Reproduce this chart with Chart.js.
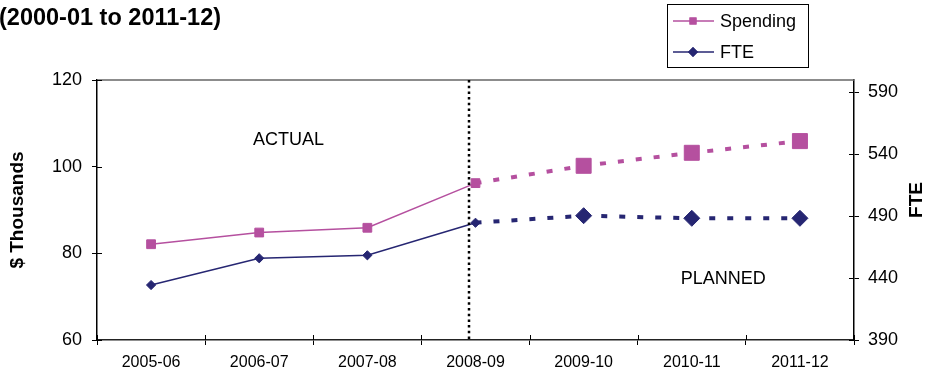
<!DOCTYPE html>
<html lang="en">
<head>
<meta charset="utf-8">
<title>Spending and FTE</title>
<script src="https://cdn.jsdelivr.net/npm/chart.js@4.4.1/dist/chart.umd.min.js"></script>
<style>
    body { margin: 0; background: #fff; }
    #wrap { width: 926px; height: 372px; }
</style>
</head>
<body>
<div id="wrap"><canvas id="chart" width="926" height="372"></canvas></div>
<script>
const years = ['2005-06', '2006-07', '2007-08', '2008-09', '2009-10', '2010-11', '2011-12'];
const spending = [82.1, 84.8, 85.9, 96.2, 100.2, 103.2, 105.9];
const fte = [434.4, 456.0, 458.4, 484.7, 490.4, 488.3, 488.3];
const lastActual = 3; // index of 2008-09, planned values start after it
const leftTicks = [60, 80, 100, 120];
const rightTicks = [390, 440, 490, 540, 590];

const pink = '#B5509F';
const navy = '#262672';
const font = 'Liberation Sans, Arial, sans-serif';

// solid thin line for actual years, thick dashes for planned ones
const segStyle = {
    borderDash: ctx => ctx.p0DataIndex >= lastActual ? [6, 12] : undefined,
    borderWidth: ctx => ctx.p0DataIndex >= lastActual ? 4 : 1.5
};

const extras = {
    id: 'extras',
    afterDraw(chart) {
        const c = chart.ctx;
        const a = chart.chartArea;
        const x = chart.scales.x, yl = chart.scales.y, yr = chart.scales.y1;
        c.save();

        // top border of plot
        c.strokeStyle = '#666';
        c.lineWidth = 1.5;
        c.beginPath();
        c.moveTo(a.left, a.top);
        c.lineTo(a.right, a.top);
        c.stroke();

        // inner halves of the tick marks
        c.strokeStyle = '#000';
        c.lineWidth = 1;
        c.beginPath();
        leftTicks.forEach(v => {
            const p = Math.round(yl.getPixelForValue(v)) + 0.5;
            c.moveTo(a.left, p); c.lineTo(a.left + 5, p);
        });
        rightTicks.forEach(v => {
            const p = Math.round(yr.getPixelForValue(v)) + 0.5;
            c.moveTo(a.right - 5, p); c.lineTo(a.right, p);
        });
        for (let i = 0; i <= years.length; i++) {
            const p = Math.round(x.getPixelForValue(i - 0.5)) + 0.5;
            c.moveTo(p, a.bottom); c.lineTo(p, a.bottom - 5);
        }
        c.stroke();

        // dotted divider between actual and planned
        const dx = x.getPixelForValue(2.94);
        c.strokeStyle = '#000';
        c.lineWidth = 2.5;
        c.setLineDash([2.5, 3.2]);
        c.beginPath();
        c.moveTo(dx, a.top);
        c.lineTo(dx, a.bottom);
        c.stroke();
        c.setLineDash([]);

        // annotations
        c.fillStyle = '#000';
        c.font = '18px ' + font;
        c.textAlign = 'center';
        c.textBaseline = 'middle';
        c.fillText('ACTUAL', x.getPixelForValue(1.27), yl.getPixelForValue(106.2));
        c.fillText('PLANNED', x.getPixelForValue(5.29), yl.getPixelForValue(74.1));

        // right axis title, reading bottom to top
        c.save();
        c.translate(917, (a.top + a.bottom) / 2 - 10);
        c.rotate(-Math.PI / 2);
        c.font = 'bold 19px ' + font;
        c.fillText('FTE', 0, 0);
        c.restore();

        // title fragment
        c.font = 'bold 23.5px ' + font;
        c.textAlign = 'left';
        c.fillText('(2000-01 to 2011-12)', -1, 19);

        // legend box
        c.lineWidth = 1;
        c.strokeStyle = '#000';
        c.strokeRect(667.5, 4.5, 141, 63);
        const rows = [['Spending', pink, 'rect', 21], ['FTE', navy, 'rectRot', 52]];
        rows.forEach(([label, col, style, ry]) => {
            c.strokeStyle = col;
            c.lineWidth = 1.5;
            c.beginPath();
            c.moveTo(673, ry); c.lineTo(714, ry);
            c.stroke();
            c.fillStyle = col;
            Chart.helpers.drawPoint(c, {pointStyle: style, radius: 5, borderWidth: 0}, 693, ry);
            c.fill();
            c.fillStyle = '#000';
            c.font = '18px ' + font;
            c.textAlign = 'left';
            c.fillText(label, 720, ry + 1);
        });
        c.restore();
    }
};

new Chart(document.getElementById('chart'), {
    type: 'line',
    data: {
        labels: years,
        datasets: [{
            label: 'Spending',
            data: spending,
            yAxisID: 'y',
            borderColor: pink,
            backgroundColor: pink,
            pointBackgroundColor: pink,
            pointBorderColor: pink,
            pointBorderWidth: 1,
            pointStyle: 'rect',
            pointRadius: ctx => ctx.dataIndex > lastActual ? 10.6 : 6.2,
            borderWidth: 1.5,
            tension: 0,
            segment: segStyle
        }, {
            label: 'FTE',
            data: fte,
            yAxisID: 'y1',
            borderColor: navy,
            backgroundColor: navy,
            pointBackgroundColor: navy,
            pointBorderColor: navy,
            pointBorderWidth: 1,
            pointStyle: 'rectRot',
            pointRadius: ctx => ctx.dataIndex > lastActual ? 8 : 4.6,
            borderWidth: 1.5,
            tension: 0,
            segment: segStyle
        }]
    },
    options: {
        responsive: false,
        animation: false,
        events: [],
        layout: { padding: { top: 80, left: 0, right: 0, bottom: 0 } },
        plugins: {
            legend: { display: false },
            tooltip: { enabled: false }
        },
        scales: {
            x: {
                offset: true,
                grid: { offset: true, drawOnChartArea: false, tickLength: 5, color: '#000' },
                border: { color: '#222', width: 1.5 },
                ticks: { color: '#000', font: { family: font, size: 16 }, padding: 8, maxRotation: 0 },
                afterFit(s) { s.height = 32; }
            },
            y: {
                position: 'left',
                min: 60,
                max: 120,
                afterBuildTicks(s) { s.ticks = leftTicks.map(v => ({value: v})); },
                grid: { drawOnChartArea: false, tickLength: 5, color: '#000' },
                border: { color: '#000', width: 1.5 },
                ticks: { color: '#000', font: { family: font, size: 18 }, padding: 10 },
                title: { display: true, text: '$ Thousands', color: '#000', font: { family: font, size: 19, weight: 'bold' }, padding: { top: 6, bottom: 0 } },
                afterFit(s) { s.width = 97; }
            },
            y1: {
                position: 'right',
                min: 390,
                max: 600,
                afterBuildTicks(s) { s.ticks = rightTicks.map(v => ({value: v})); },
                grid: { drawOnChartArea: false, tickLength: 5, color: '#000' },
                border: { color: '#000', width: 1.5 },
                ticks: { color: '#000', font: { family: font, size: 18 }, padding: 9 },
                afterFit(s) { s.width = 72; }
            }
        }
    },
    plugins: [extras]
});
</script>
</body>
</html>
